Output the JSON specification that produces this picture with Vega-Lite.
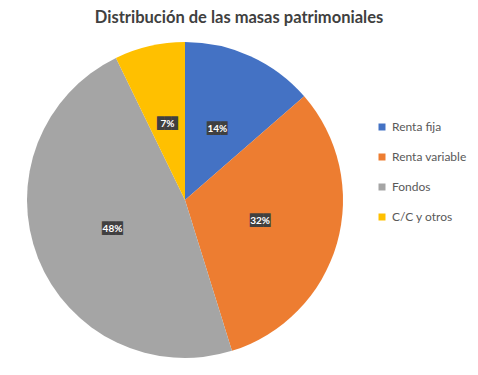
{
  "$schema": "https://vega.github.io/schema/vega-lite/v6.json",
  "width": 370,
  "height": 320,
  "autosize": {"type": "none"},
  "padding": {"left": 0, "top": 40, "right": 108, "bottom": 15},
  "background": "white",
  "config": {"view": {"stroke": null}},
  "title": {
    "text": "Distribución de las masas patrimoniales",
    "font": "Lato",
    "fontSize": 16.5,
    "fontWeight": "bold",
    "color": "#404040",
    "anchor": "middle",
    "dx": 54,
    "offset": 14
  },
  "data": {
    "values": [
      {"masa": "Renta fija", "valor": 0.136, "orden": 1},
      {"masa": "Renta variable", "valor": 0.316, "orden": 2},
      {"masa": "Fondos", "valor": 0.476, "orden": 3},
      {"masa": "C/C y otros", "valor": 0.072, "orden": 4}
    ]
  },
  "encoding": {
    "theta": {"field": "valor", "type": "quantitative", "stack": true},
    "order": {"field": "orden", "type": "quantitative"}
  },
  "layer": [
    {
      "mark": {"type": "arc", "outerRadius": 158},
      "encoding": {
        "color": {
          "field": "masa",
          "type": "nominal",
          "scale": {
            "domain": ["Renta fija", "Renta variable", "Fondos", "C/C y otros"],
            "range": ["#4472C4", "#ED7D31", "#A5A5A5", "#FFC000"]
          },
          "legend": {
            "title": null,
            "orient": "none",
            "legendX": 376,
            "legendY": 81,
            "padding": 0,
            "symbolType": "square",
            "symbolSize": 49,
            "symbolStrokeWidth": 0,
            "labelFont": "Lato",
            "labelFontSize": 12,
            "labelColor": "#595959",
            "labelOffset": 4,
            "rowPadding": 18
          }
        }
      }
    },
    {
      "mark": {
        "type": "text",
        "radius": 78,
        "text": "███",
        "font": "DejaVu Sans Mono",
        "fontSize": 11.5,
        "color": "#404040",
        "baseline": "middle",
        "align": "center"
      }
    },
    {
      "mark": {
        "type": "text",
        "radius": 78,
        "font": "Lato",
        "fontSize": 10,
        "fontWeight": "bold",
        "color": "white",
        "baseline": "middle",
        "align": "center"
      },
      "encoding": {
        "text": {"field": "valor", "type": "quantitative", "format": ".0%"}
      }
    }
  ]
}
